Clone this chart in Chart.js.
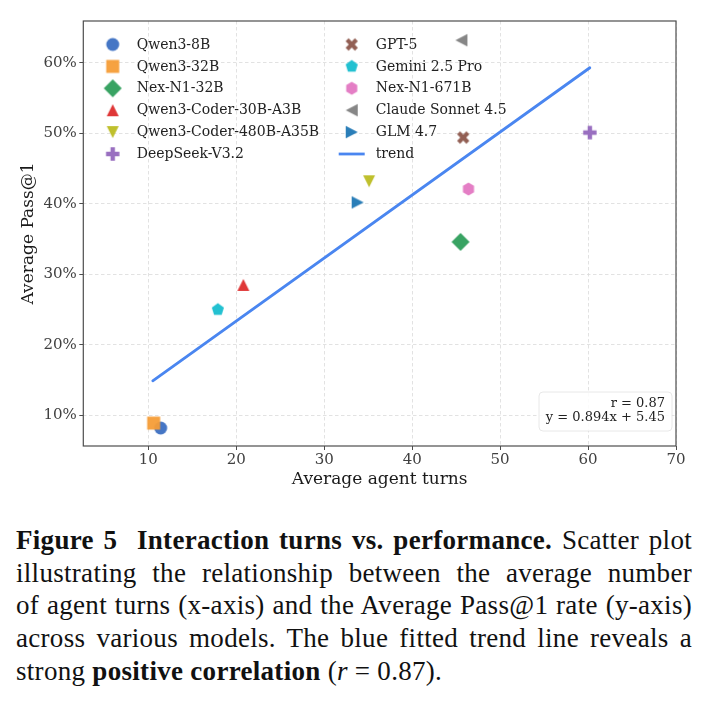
<!DOCTYPE html>
<html><head><meta charset="utf-8">
<script src="https://cdn.jsdelivr.net/npm/chart.js@4.4.0/dist/chart.umd.min.js"></script>
<style>
html,body{margin:0;padding:0;background:#fff;width:710px;height:703px;overflow:hidden}
#wrap{position:absolute;left:0;top:0;width:710px;height:505px}
#cap{position:absolute;left:16px;top:524px;width:676px;font-family:'Liberation Serif',serif;font-size:27px;line-height:32.7px;color:#111;letter-spacing:0.3px}
#cap .j{text-align:justify;text-align-last:justify}
</style></head><body>
<div id="wrap"><canvas id="c" width="710" height="505"></canvas></div>
<div id="cap">
<div class="j"><b>Figure 5&nbsp; Interaction turns vs. performance.</b> Scatter plot</div>
<div class="j">illustrating the relationship between the average number</div>
<div class="j">of agent turns (x-axis) and the Average Pass@1 rate (y-axis)</div>
<div class="j">across various models. The blue fitted trend line reveals a</div>
<div>strong <b>positive correlation</b> (<i>r</i> = 0.87).</div>
</div>
<script>
// ---- data ----
const models = ['Qwen3-8B','Qwen3-32B','Nex-N1-32B','Qwen3-Coder-30B-A3B','Qwen3-Coder-480B-A35B','DeepSeek-V3.2','GPT-5','Gemini 2.5 Pro','Nex-N1-671B','Claude Sonnet 4.5','GLM 4.7'];
const agentTurns = [11.4, 10.6, 45.5, 20.8, 35.1, 60.2, 45.8, 17.9, 46.4, 45.6, 33.8];
const passAt1   = [8.2, 8.9, 34.6, 28.5, 43.2, 50.1, 49.4, 25.0, 42.1, 63.2, 40.2];
const trendX = [10.5, 60.2];
const trendY = [14.9, 59.3];
const xTicks = [10, 20, 30, 40, 50, 60, 70];
const yTicks = [10, 20, 30, 40, 50, 60];
const statLines = ['r = 0.87', 'y = 0.894x + 5.45'];

// ---- styles ----
const colors = ['#3b6fc2','#f59d37','#2e9e5b','#dd2c2c','#bcbd22','#9467bd','#8c564b','#17becf','#e377c2','#7f7f7f','#1f77b4'];
const shapes = ['circle','square','diamond','triUp','triDown','plus','x','pentagon','hexagon','triLeft','triRight'];
const trendColor = '#4a86f0';
const SERIF = "'DejaVu Serif', serif";

function poly(g, pts){ g.moveTo(pts[0][0], pts[0][1]); for (let i=1;i<pts.length;i++) g.lineTo(pts[i][0], pts[i][1]); g.closePath(); }
function regular(g, n, r){ const p=[]; for(let i=0;i<n;i++){ const a=-Math.PI/2 + i*2*Math.PI/n; p.push([r*Math.cos(a), r*Math.sin(a)]);} poly(g,p); }
function plusPts(w, t){ return [[-t,-w],[t,-w],[t,-t],[w,-t],[w,t],[t,t],[t,w],[-t,w],[-t,t],[-w,t],[-w,-t],[-t,-t]]; }
function marker(shape, color){
  const S = 24, c = document.createElement('canvas'); c.width = S; c.height = S;
  const g = c.getContext('2d'); g.translate(S/2, S/2); g.fillStyle = color; g.globalAlpha = 0.95;
  g.beginPath();
  switch(shape){
    case 'circle': g.arc(0,0,6.5,0,Math.PI*2); break;
    case 'square': g.rect(-6.5,-6.5,13,13); break;
    case 'diamond': poly(g, [[0,-9],[9,0],[0,9],[-9,0]]); break;
    case 'triUp': poly(g, [[0,-6],[6,6],[-6,6]]); break;
    case 'triDown': poly(g, [[0,6],[6,-6],[-6,-6]]); break;
    case 'triLeft': poly(g, [[-6,0],[6,-6.3],[6,6.3]]); break;
    case 'triRight': poly(g, [[6,0],[-6,-6.3],[-6,6.3]]); break;
    case 'plus': poly(g, plusPts(6.7, 2.2)); break;
    case 'x': g.rotate(Math.PI/4); poly(g, plusPts(6.6, 2.1)); break;
    case 'pentagon': regular(g, 5, 6.4); break;
    case 'hexagon': regular(g, 6, 6.4); break;
  }
  g.fill();
  return c;
}
const markerImgs = shapes.map((s,i)=>marker(s, colors[i]));

const datasets = models.map((m,i)=>({
  label: m,
  data: [{x: agentTurns[i], y: passAt1[i]}],
  pointStyle: markerImgs[i],
  pointRadius: 6,
  pointHoverRadius: 6,
  backgroundColor: colors[i],
  borderColor: colors[i],
  showLine: false,
  order: models.length - i + 1
}));
datasets.push({
  label: 'trend', type: 'line',
  data: trendX.map((x,i)=>({x, y: trendY[i]})),
  borderColor: trendColor, backgroundColor: trendColor, borderWidth: 2.8,
  pointRadius: 0, showLine: true, fill: false, order: 0, borderCapStyle: 'round'
});

const framePlugin = {
  id: 'frame',
  afterDraw(chart){
    const {ctx, chartArea: a} = chart;
    ctx.save(); ctx.strokeStyle = '#4d4d4d'; ctx.lineWidth = 1.2;
    ctx.strokeRect(a.left, a.top, a.right - a.left, a.bottom - a.top);
    ctx.restore();
  }
};

const legendPlugin = {
  id: 'inlegend',
  afterDraw(chart){
    const ctx = chart.ctx;
    const ds = chart.data.datasets;
    const colX = [112.7, 351.7], y0 = 44.5, dy = 21.9, perCol = 6;
    ctx.save();
    ctx.font = '14px ' + SERIF; ctx.fillStyle = '#222'; ctx.textBaseline = 'middle'; ctx.textAlign = 'left';
    ds.forEach((d, i) => {
      const col = Math.floor(i / perCol), row = i % perCol;
      const mx = colX[col], my = y0 + row * dy;
      if (d.type === 'line') {
        ctx.save(); ctx.strokeStyle = d.borderColor; ctx.lineWidth = 2.8;
        ctx.beginPath(); ctx.moveTo(mx - 13, my); ctx.lineTo(mx + 13, my); ctx.stroke(); ctx.restore();
      } else {
        const img = d.pointStyle;
        ctx.drawImage(img, mx - img.width/2, my - img.height/2);
      }
      ctx.fillText(d.label, mx + 24, my + 0.5);
    });
    ctx.restore();
  }
};

const statPlugin = {
  id: 'stat',
  afterDraw(chart){
    const ctx = chart.ctx, a = chart.chartArea;
    const right = a.right - 4, bottom = a.bottom - 15;
    const w = 133, h = 39, x = right - w, y = bottom - h;
    ctx.save();
    ctx.beginPath(); ctx.roundRect(x, y, w, h, 4);
    ctx.fillStyle = 'rgba(255,255,255,0.85)'; ctx.fill();
    ctx.strokeStyle = '#e2e2e2'; ctx.lineWidth = 0.8; ctx.stroke();
    ctx.font = '13px ' + SERIF; ctx.fillStyle = '#222'; ctx.textAlign = 'right'; ctx.textBaseline = 'middle';
    statLines.forEach((t, i) => ctx.fillText(t, right - 7, y + 11.5 + i * 14.5));
    ctx.restore();
  }
};

new Chart(document.getElementById('c'), {
  type: 'scatter',
  data: { datasets },
  options: {
    responsive: false, animation: false,
    layout: { padding: { left: 0, top: 21, right: 34, bottom: 0 } },
    plugins: { legend: { display: false }, tooltip: { enabled: false } },
    scales: {
      x: {
        type: 'linear', min: 2.6, max: 70,
        afterBuildTicks: s => { s.ticks = xTicks.map(v => ({ value: v })); },
        afterFit: s => { s.height = 59; },
        grid: { color: '#dadada', lineWidth: 0.8, drawTicks: true, tickLength: 4, tickColor: '#4d4d4d', tickWidth: 1 },
        border: { display: false, dash: [3.5, 2.5] },
        ticks: { autoSkip: false, maxRotation: 0, padding: 1, color: '#404040', font: { family: SERIF, size: 15 }, callback: v => String(v) },
        title: { display: true, text: 'Average agent turns', color: '#1a1a1a', font: { family: SERIF, size: 17 }, padding: { top: 0, bottom: 14.8 } }
      },
      y: {
        type: 'linear', min: 5.65, max: 65.93,
        afterBuildTicks: s => { s.ticks = yTicks.map(v => ({ value: v })); },
        afterFit: s => { s.width = 83.3; },
        grid: { color: '#dadada', lineWidth: 0.8, drawTicks: true, tickLength: 4, tickColor: '#4d4d4d', tickWidth: 1 },
        border: { display: false, dash: [3.5, 2.5] },
        ticks: { autoSkip: false, padding: 2.5, color: '#404040', font: { family: SERIF, size: 15 }, callback: v => v + '%' },
        title: { display: true, text: 'Average Pass@1', color: '#1a1a1a', font: { family: SERIF, size: 17 }, padding: { top: 18, bottom: 0 } }
      }
    }
  },
  plugins: [framePlugin, legendPlugin, statPlugin]
});
</script>
</body></html>
